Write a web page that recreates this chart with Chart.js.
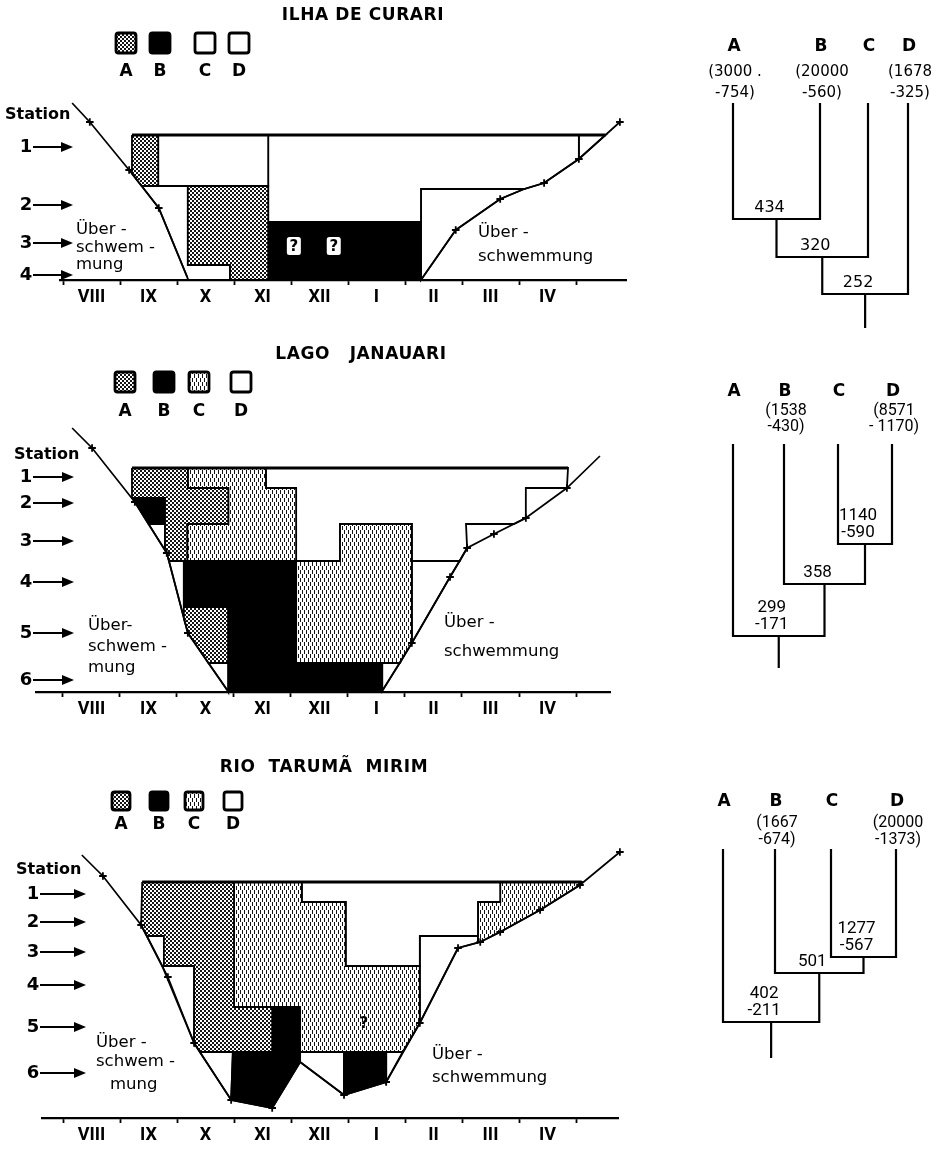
<!DOCTYPE html>
<html>
<head>
<meta charset="utf-8">
<script src="https://cdn.jsdelivr.net/npm/chart.js@4.4.1/dist/chart.umd.min.js"></script>
<style>
  html, body { margin: 0; padding: 0; background: #fff; }
  #page { position: relative; width: 945px; height: 1153px; overflow: hidden; background: #fff; }
  #page canvas { position: absolute; }
</style>
</head>
<body>
<div id="page"></div>
<script>
// ------------------------------------------------------------------
// Time axis: one month between two ticks, tick 0 = start of August
// Level axis: water level above the lowest sampled level
// ------------------------------------------------------------------
const monthLabels = ['VIII', 'IX', 'X', 'XI', 'XII', 'I', 'II', 'III', 'IV'];
const groupLetters = ['A', 'B', 'C', 'D'];

// ---------------- Ilha de Curari ----------------
const curariStations = [6.65, 3.75, 1.85, 0.25];
const curariFloodLeft = [[0.16, 8.85], [0.47, 7.9], [1.16, 5.5], [1.38, 4.7], [1.68, 3.6], [2.18, 0.15]];
const curariFloodLeftMarks = [1, 2, 4];
const curariFloodRight = [[6.28, 0], [6.89, 2.5], [7.67, 4.05], [8.09, 4.55], [8.44, 4.85], [9.05, 6.05], [9.77, 7.9]];
const curariFloodRightMarks = [1, 2, 4, 5, 6];
const curariSurface = [[1.21, 7.25], [9.52, 7.25]];
const curariA1 = [[1.21, 7.25], [1.67, 7.25], [1.67, 4.7], [1.38, 4.7], [1.21, 5.32]];
const curariC1 = [[1.67, 7.25], [3.6, 7.25], [3.6, 4.7], [1.67, 4.7]];
const curariA2 = [[2.19, 4.7], [3.6, 4.7], [3.6, 0], [2.93, 0], [2.93, 0.75], [2.19, 0.75]];
const curariB1 = [[3.6, 2.9], [6.28, 2.9], [6.28, 0], [3.6, 0]];
const curariD1 = [[3.6, 7.25], [9.05, 7.25], [9.05, 6.05], [8.44, 4.85], [8.09, 4.55], [6.28, 4.55], [6.28, 2.9], [3.6, 2.9]];
const curariOpen1 = [[1.38, 4.7], [2.19, 4.7], [2.19, 0.75], [2.93, 0.75], [2.93, 0], [2.2, 0], [1.68, 3.6]];
const curariOpen2 = [[9.05, 7.25], [9.52, 7.25], [9.05, 6.05]];
const curariOpen3 = [[6.28, 4.55], [8.09, 4.55], [7.67, 4.05], [6.89, 2.5], [6.28, 0]];
const curariQuestions = [[4.05, 1.7], [4.75, 1.7]];

// ---------------- Lago Janauari ----------------
const janauariStations = [10.75, 9.45, 7.55, 5.5, 2.95, 0.6];
const janauariFloodLeft = [[0.16, 13.2], [0.51, 12.2], [1.26, 9.5], [1.82, 6.95], [2.19, 2.95], [2.88, 0.1]];
const janauariFloodLeftMarks = [1, 2, 3, 4];
const janauariFloodRight = [[5.6, 0.05], [6.12, 2.45], [6.79, 5.75], [7.09, 7.2], [7.56, 7.9], [8.12, 8.7], [8.84, 10.2], [9.42, 11.8]];
const janauariFloodRightMarks = [1, 2, 3, 4, 5, 6];
const janauariSurface = [[1.21, 11.2], [8.86, 11.2]];
const janauariA1 = [[1.21, 11.2], [2.19, 11.2], [2.19, 10.2], [2.9, 10.2], [2.9, 8.4], [2.18, 8.4], [2.18, 6.55], [1.86, 6.55], [1.82, 6.95], [1.79, 7.09], [1.79, 9.7], [1.21, 9.7]];
const janauariB1 = [[1.21, 9.7], [1.79, 9.7], [1.79, 8.4], [1.5, 8.4], [1.26, 9.5]];
const janauariC1 = [[2.19, 11.2], [3.56, 11.2], [3.56, 10.2], [4.09, 10.2], [4.09, 6.55], [2.18, 6.55], [2.18, 8.4], [2.9, 8.4], [2.9, 10.2], [2.19, 10.2]];
const janauariB2 = [[2.12, 6.55], [4.09, 6.55], [4.09, 1.45], [5.6, 1.45], [5.6, 0], [2.9, 0], [2.9, 4.25], [2.12, 4.25]];
const janauariA2 = [[2.12, 4.25], [2.9, 4.25], [2.9, 1.45], [2.55, 1.45], [2.19, 2.95], [2.12, 3.7]];
const janauariC2 = [[4.09, 6.55], [4.86, 6.55], [4.86, 8.4], [6.12, 8.4], [6.12, 2.45], [5.91, 1.45], [4.09, 1.45]];
const janauariD1 = [[3.56, 11.2], [8.86, 11.2], [8.84, 10.2], [8.12, 10.2], [8.12, 8.7], [7.91, 8.4], [7.07, 8.4], [7.09, 7.2], [6.96, 6.55], [6.12, 6.55], [6.12, 8.4], [4.86, 8.4], [4.86, 6.55], [4.09, 6.55], [4.09, 10.2], [3.56, 10.2]];
const janauariOpen1 = [[1.5, 8.4], [1.79, 8.4], [1.79, 7.09]];
const janauariOpen2 = [[1.86, 6.55], [2.12, 6.55], [2.12, 3.7]];
const janauariOpen3 = [[2.55, 1.45], [2.9, 1.45], [2.9, 0], [2.88, 0.1]];
const janauariOpen4 = [[5.6, 1.45], [5.91, 1.45], [5.6, 0.05]];
const janauariOpen5 = [[6.12, 6.55], [6.96, 6.55], [6.79, 5.75], [6.12, 2.45]];

// ---------------- Rio Tarumã Mirim ----------------
const tarumaStations = [11.2, 9.8, 8.3, 6.65, 4.55, 2.25];
const tarumaFlood = [[0.33, 13.15], [0.7, 12.1], [1.37, 9.65], [1.84, 7.05], [2.3, 3.75], [2.95, 0.9], [3.67, 0.5], [4.16, 2.8], [4.93, 1.15], [5.67, 1.8], [6.26, 4.75], [6.93, 8.5], [7.32, 8.8], [7.67, 9.3], [8.37, 10.4], [9.07, 11.65], [9.77, 13.3]];
const tarumaFloodMarks = [1, 2, 3, 4, 5, 6, 8, 9, 10, 11, 12, 13, 14, 15, 16];
const tarumaSurface = [[1.39, 11.8], [9.1, 11.8]];
const tarumaA1 = [[1.39, 11.8], [3.0, 11.8], [3.0, 5.55], [3.67, 5.55], [3.67, 3.3], [2.4, 3.3], [2.3, 3.75], [2.3, 7.6], [1.77, 7.6], [1.77, 9.1], [1.47, 9.1], [1.37, 9.65]];
const tarumaB1 = [[2.98, 3.3], [3.67, 3.3], [3.67, 5.55], [4.16, 5.55], [4.16, 2.8], [3.67, 0.5], [2.95, 0.9]];
const tarumaC1 = [[3.0, 11.8], [4.19, 11.8], [4.19, 10.8], [4.96, 10.8], [4.96, 7.6], [6.26, 7.6], [6.26, 4.75], [5.96, 3.3], [4.16, 3.3], [4.16, 5.55], [3.0, 5.55]];
const tarumaD1 = [[4.19, 11.8], [7.67, 11.8], [7.67, 10.8], [7.28, 10.8], [7.28, 9.1], [6.26, 9.1], [6.26, 7.6], [4.96, 7.6], [4.96, 10.8], [4.19, 10.8]];
const tarumaC2 = [[7.67, 11.8], [9.1, 11.8], [9.07, 11.65], [8.37, 10.4], [7.67, 9.3], [7.32, 8.8], [7.28, 8.77], [7.28, 10.8], [7.67, 10.8]];
const tarumaB2 = [[4.93, 3.3], [5.67, 3.3], [5.67, 1.8], [4.93, 1.15]];
const tarumaOpen1 = [[1.47, 9.1], [1.77, 9.1], [1.77, 7.6], [1.74, 7.6]];
const tarumaOpen2 = [[1.74, 7.6], [2.3, 7.6], [2.3, 3.75]];
const tarumaOpen3 = [[2.4, 3.3], [2.98, 3.3], [2.95, 0.9]];
const tarumaOpen4 = [[6.26, 9.1], [7.28, 9.1], [7.28, 8.77], [6.93, 8.5], [6.26, 4.75]];
const tarumaOpen5 = [[4.16, 3.3], [4.93, 3.3], [4.93, 1.15], [4.16, 2.8]];
const tarumaOpen6 = [[5.67, 3.3], [5.96, 3.3], [5.67, 1.8]];
const tarumaQuestions = [[5.28, 4.75]];

// ---------------- Dendrograms ----------------
const curariLeafPos = [0, 1.74, 2.7, 3.5];
const curariLeafRange = [['(3000 .', '-754)'], ['(20000', '-560)'], null, ['(1678', '-325)']];
const curariMergePairs = [[0, 1], [4, 2], [5, 3]];
const curariMergeLevels = [2.32, 3.08, 3.82];
const curariMergeLabels = [['434'], ['320'], ['252']];
const curariRootEnd = 4.5;

const janauariLeafPos = [0, 1.02, 2.1, 3.18];
const janauariLeafRange = [null, ['(1538', '-430)'], null, ['(8571', '- 1170)']];
const janauariMergePairs = [[2, 3], [1, 4], [0, 5]];
const janauariMergeLevels = [2.0, 2.8, 3.84];
const janauariMergeLabels = [['1140', '-590'], ['358'], ['299', '-171']];
const janauariRootEnd = 4.48;

const tarumaLeafPos = [-0.2, 0.84, 1.96, 3.26];
const tarumaLeafRange = [null, ['(1667', '-674)'], null, ['(20000', '-1373)']];
const tarumaMergePairs = [[2, 3], [1, 4], [0, 5]];
const tarumaMergeLevels = [2.16, 2.48, 3.46];
const tarumaMergeLabels = [['1277', '-567'], ['501'], ['402', '-211']];
const tarumaRootEnd = 4.18;

// ------------------------------------------------------------------
const page = document.getElementById('page');
const FONT = '"DejaVu Sans", "Liberation Sans", sans-serif';
const NARROW = 'Roboto, "DejaVu Sans", sans-serif';
const PX_PER_MONTH = 57, MONTH0 = 63, PX_PER_LEVEL = 20;

Chart.defaults.font.family = FONT;
Chart.defaults.color = '#000';
Chart.defaults.animation = false;
Chart.defaults.responsive = false;
Chart.defaults.devicePixelRatio = 1;
Chart.defaults.events = [];
Chart.defaults.plugins.legend.display = false;
Chart.defaults.plugins.tooltip.enabled = false;

// fill textures
const tile = document.createElement('canvas');
function makePattern(kind) {
  const c = document.createElement('canvas');
  const g = c.getContext('2d');
  if (kind === 'stipple') {
    c.width = 4; c.height = 4;
    g.fillStyle = '#fff'; g.fillRect(0, 0, 4, 4);
    g.fillStyle = '#151515';
    g.fillRect(0, 0, 2, 2); g.fillRect(2, 2, 2, 2);
    g.fillRect(1, 1, 1, 1); g.fillRect(3, 3, 1, 1);
  } else {
    c.width = 4; c.height = 8;
    g.fillStyle = '#fff'; g.fillRect(0, 0, 4, 8);
    g.fillStyle = '#151515';
    g.fillRect(0, 0, 1, 4); g.fillRect(2, 4, 1, 4);
  }
  return tile.getContext('2d').createPattern(c, 'repeat');
}
const FILLS = { stipple: makePattern('stipple'), dash: makePattern('dash'), black: '#000', white: '#fff' };

// fill each closed outline through the points the library has placed
const polygonFill = {
  id: 'polygonFill',
  beforeDatasetDraw(chart, args) {
    const ds = chart.data.datasets[args.index];
    if (!ds.polyFill) return;
    const pts = args.meta.data;
    const ctx = chart.ctx;
    ctx.save();
    ctx.beginPath();
    pts.forEach((p, i) => (i ? ctx.lineTo(p.x, p.y) : ctx.moveTo(p.x, p.y)));
    ctx.closePath();
    ctx.fillStyle = ds.polyFill;
    ctx.fill();
    ctx.restore();
  }
};

function ring(pts) { return pts.concat([pts[0]]).map(([x, y]) => ({ x, y })); }
function pts(list) { return list.map(([x, y]) => ({ x, y })); }

function arrow(ctx, x0, x1, y) {
  ctx.save();
  ctx.strokeStyle = '#000'; ctx.fillStyle = '#000'; ctx.lineWidth = 2.2;
  ctx.beginPath(); ctx.moveTo(x0, y); ctx.lineTo(x1 - 6, y); ctx.stroke();
  ctx.beginPath(); ctx.moveTo(x1, y); ctx.lineTo(x1 - 12, y - 5); ctx.lineTo(x1 - 12, y + 5); ctx.closePath(); ctx.fill();
  ctx.restore();
}

function roundBox(ctx, x, y, w, h, r) {
  ctx.beginPath();
  ctx.moveTo(x + r, y); ctx.lineTo(x + w - r, y); ctx.quadraticCurveTo(x + w, y, x + w, y + r);
  ctx.lineTo(x + w, y + h - r); ctx.quadraticCurveTo(x + w, y + h, x + w - r, y + h);
  ctx.lineTo(x + r, y + h); ctx.quadraticCurveTo(x, y + h, x, y + h - r);
  ctx.lineTo(x, y + r); ctx.quadraticCurveTo(x, y, x + r, y);
  ctx.closePath();
}

function buildPanel(cfg) {
  const canvas = document.createElement('canvas');
  canvas.width = 640; canvas.height = cfg.height;
  canvas.style.left = '0px'; canvas.style.top = cfg.top + 'px';
  page.appendChild(canvas);

  const datasets = [];
  cfg.regions.forEach(([kind, poly]) => {
    datasets.push({
      data: ring(poly), polyFill: FILLS[cfg.fills[kind]],
      borderColor: '#000', borderWidth: 1.8, pointRadius: 0, fill: false, tension: 0, order: 3, clip: false
    });
  });
  datasets.push({
    data: pts(cfg.surface), borderColor: '#000', borderWidth: 2.8, pointRadius: 0, fill: false, order: 1, clip: false
  });
  cfg.floods.forEach(([line, marks]) => {
    datasets.push({
      data: pts(line), borderColor: '#000', borderWidth: 1.7, fill: false, tension: 0, order: 0, clip: false,
      pointStyle: 'cross', pointRadius: line.map((_, i) => (marks.includes(i) ? 3.8 : 0)),
      pointBorderColor: '#000', pointBorderWidth: 1.8
    });
  });

  const ticks = [];
  for (let i = 0; i <= 9; i++) ticks.push(i);
  for (let i = 0; i < monthLabels.length; i++) ticks.push(i + 0.5);
  ticks.sort((a, b) => a - b);

  const annotate = {
    id: 'annotate',
    afterDraw(chart) {
      const ctx = chart.ctx;
      const ys = chart.scales.y, xs = chart.scales.x;
      ctx.save();
      ctx.fillStyle = '#000'; ctx.strokeStyle = '#000';
      ctx.textBaseline = 'middle';
      // title
      ctx.font = 'bold 17px ' + FONT;
      ctx.textAlign = 'center';
      ctx.letterSpacing = '0.6px';
      ctx.fillText(cfg.title.text, cfg.title.x, cfg.title.y);
      ctx.letterSpacing = '0px';
      // legend
      const L = cfg.legend;
      L.xs.forEach((x, i) => {
        roundBox(ctx, x, L.y, L.size, L.size, 2.5);
        ctx.fillStyle = FILLS[cfg.fills[groupLetters[i]]];
        ctx.fill();
        ctx.lineWidth = 2.8; ctx.strokeStyle = '#000';
        ctx.stroke();
        ctx.fillStyle = '#000';
        ctx.font = 'bold 17px ' + FONT;
        ctx.fillText(groupLetters[i], x + L.size / 2, L.letterY);
      });
      // station axis
      ctx.textAlign = 'left';
      ctx.font = '600 16px ' + FONT;
      ctx.fillText('Station', cfg.station.x, cfg.station.y);
      ctx.font = 'bold 18px ' + FONT;
      ctx.textAlign = 'center';
      cfg.stations.forEach((lvl, i) => {
        const y = ys.getPixelForValue(lvl);
        ctx.fillText(String(i + 1), cfg.station.numX, y);
        arrow(ctx, cfg.station.arrow[0], cfg.station.arrow[1], y);
      });
      // flood labels
      ctx.textAlign = 'left';
      ctx.font = '16.5px ' + FONT;
      cfg.flood.forEach(t => t.lines.forEach((s, i) => ctx.fillText(s, t.xs ? t.xs[i] : t.x, t.ys[i])));
      // uncertain samples
      (cfg.questions || []).forEach(([qx, qy]) => {
        const px = xs.getPixelForValue(qx), py = ys.getPixelForValue(qy);
        if (cfg.questionBox) {
          ctx.fillStyle = '#fff';
          roundBox(ctx, px - 7, py - 9, 14, 18, 2.5);
          ctx.fill();
        }
        ctx.fillStyle = '#000';
        ctx.font = 'bold 15px ' + FONT;
        ctx.textAlign = 'center';
        ctx.fillText('?', px, py + 1);
      });
      ctx.restore();
    }
  };

  return new Chart(canvas, {
    type: 'line',
    data: { datasets },
    options: {
      layout: {
        padding: {
          left: MONTH0 + PX_PER_MONTH * cfg.xMin,
          right: 640 - (MONTH0 + PX_PER_MONTH * cfg.xMax),
          top: cfg.baseline - PX_PER_LEVEL * cfg.yMax,
          bottom: 0
        }
      },
      scales: {
        x: {
          type: 'linear', min: cfg.xMin, max: cfg.xMax,
          afterBuildTicks: s => { s.ticks = ticks.map(v => ({ value: v })); },
          afterFit: s => { s.height = cfg.height - cfg.baseline; },
          border: { display: true, color: '#000', width: 2.2 },
          grid: {
            display: true, drawOnChartArea: false, drawTicks: true, tickLength: 5, tickWidth: 1.8,
            tickColor: c => (c.tick && Number.isInteger(c.tick.value) ? '#000' : 'rgba(0,0,0,0)')
          },
          ticks: {
            autoSkip: false, maxRotation: 0, minRotation: 0, padding: 2, color: '#000',
            font: { family: NARROW, size: 18, weight: 'bold' },
            callback: v => (Number.isInteger(v) ? '' : monthLabels[Math.floor(v)])
          }
        },
        y: { type: 'linear', min: 0, max: cfg.yMax, display: false }
      }
    },
    plugins: [polygonFill, annotate]
  });
}

function buildTree(cfg) {
  const canvas = document.createElement('canvas');
  canvas.width = 305; canvas.height = cfg.height;
  canvas.style.left = '640px'; canvas.style.top = cfg.top + 'px';
  page.appendChild(canvas);

  const X_MIN = -1.06, X_MAX = 4.14, LVL_MAX = 4.6, UNIT = 50;
  const pos = cfg.leafPos.slice();
  const lvl = cfg.leafPos.map(() => 0);
  const datasets = [];
  cfg.pairs.forEach(([a, b], k) => {
    const L = cfg.levels[k];
    datasets.push({ data: [{ x: pos[a], y: lvl[a] }, { x: pos[a], y: L }, { x: pos[b], y: L }, { x: pos[b], y: lvl[b] }] });
    pos.push((pos[a] + pos[b]) / 2);
    lvl.push(L);
  });
  const r = pos.length - 1;
  datasets.push({ data: [{ x: pos[r], y: lvl[r] }, { x: pos[r], y: cfg.rootEnd }] });
  datasets.forEach(d => Object.assign(d, { borderColor: '#000', borderWidth: 2.2, pointRadius: 0, fill: false, tension: 0, clip: false }));

  const labels = {
    id: 'treeLabels',
    afterDraw(chart) {
      const ctx = chart.ctx, xs = chart.scales.x, ys = chart.scales.y;
      const top = ys.getPixelForValue(0);
      ctx.save();
      ctx.fillStyle = '#000';
      ctx.textAlign = 'center'; ctx.textBaseline = 'middle';
      cfg.leafPos.forEach((p, i) => {
        const x = xs.getPixelForValue(p);
        ctx.font = 'bold 17px ' + FONT;
        ctx.fillText(groupLetters[i], x + 1, top - cfg.letterGap);
        const rg = cfg.ranges[i];
        if (rg) {
          ctx.font = cfg.rangeFont;
          ctx.fillText(rg[0], x + 2, top - cfg.rangeGaps[0]);
          ctx.fillText(rg[1], x + 2, top - cfg.rangeGaps[1]);
        }
      });
      ctx.font = cfg.mergeFont;
      cfg.pairs.forEach((_, k) => {
        const node = pos[cfg.leafPos.length + k];
        const x = xs.getPixelForValue(node) - 7;
        const y = ys.getPixelForValue(cfg.levels[k]);
        const lines = cfg.labels[k];
        lines.forEach((s, j) => ctx.fillText(s, x, y - 11 - (lines.length - 1 - j) * 17));
      });
      ctx.restore();
    }
  };

  return new Chart(canvas, {
    type: 'line',
    data: { datasets },
    options: {
      layout: {
        padding: {
          left: 93 + UNIT * X_MIN, right: 305 - (93 + UNIT * X_MAX),
          top: cfg.leafTop, bottom: cfg.height - (cfg.leafTop + UNIT * LVL_MAX)
        }
      },
      scales: {
        x: { type: 'linear', min: X_MIN, max: X_MAX, display: false },
        y: { type: 'linear', min: 0, max: LVL_MAX, reverse: true, display: false }
      }
    },
    plugins: [labels]
  });
}

// ---------------- the three water bodies ----------------
buildPanel({
  top: 0, height: 325, baseline: 280, xMin: -0.05, xMax: 9.88, yMax: 9.2,
  fills: { A: 'stipple', B: 'black', C: 'white', D: 'white', W: 'white' },
  regions: [['A', curariA1], ['C', curariC1], ['A', curariA2], ['B', curariB1], ['D', curariD1],
            ['W', curariOpen1], ['W', curariOpen2], ['W', curariOpen3]],
  surface: curariSurface,
  floods: [[curariFloodLeft, curariFloodLeftMarks], [curariFloodRight, curariFloodRightMarks]],
  stations: curariStations,
  questions: curariQuestions, questionBox: true,
  title: { text: 'ILHA DE CURARI', x: 363, y: 16 },
  legend: { xs: [116, 150, 195, 229], y: 33, size: 20, letterY: 72 },
  station: { x: 5, y: 115, numX: 26, arrow: [33, 73] },
  flood: [
    { x: 76, lines: ['Über -', 'schwem -', 'mung'], ys: [230, 248, 265] },
    { x: 478, lines: ['Über -', 'schwemmung'], ys: [233, 257] }
  ]
});

buildPanel({
  top: 330, height: 400, baseline: 362, xMin: -0.47, xMax: 9.6, yMax: 13.6,
  fills: { A: 'stipple', B: 'black', C: 'dash', D: 'white', W: 'white' },
  regions: [['A', janauariA1], ['B', janauariB1], ['C', janauariC1], ['B', janauariB2], ['A', janauariA2],
            ['C', janauariC2], ['D', janauariD1], ['W', janauariOpen1], ['W', janauariOpen2],
            ['W', janauariOpen3], ['W', janauariOpen4], ['W', janauariOpen5]],
  surface: janauariSurface,
  floods: [[janauariFloodLeft, janauariFloodLeftMarks], [janauariFloodRight, janauariFloodRightMarks]],
  stations: janauariStations,
  title: { text: 'LAGO   JANAUARI', x: 361, y: 25 },
  legend: { xs: [115, 154, 189, 231], y: 42, size: 20, letterY: 82 },
  station: { x: 14, y: 125, numX: 26, arrow: [33, 74] },
  flood: [
    { x: 88, lines: ['Über-', 'schwem -', 'mung'], ys: [296, 317, 338] },
    { x: 444, lines: ['Über -', 'schwemmung'], ys: [293, 322] }
  ]
});

buildPanel({
  top: 750, height: 403, baseline: 368, xMin: -0.37, xMax: 9.74, yMax: 13.6,
  fills: { A: 'stipple', B: 'black', C: 'dash', D: 'white', W: 'white' },
  regions: [['A', tarumaA1], ['B', tarumaB1], ['C', tarumaC1], ['D', tarumaD1], ['C', tarumaC2],
            ['B', tarumaB2], ['W', tarumaOpen1], ['W', tarumaOpen2], ['W', tarumaOpen3],
            ['W', tarumaOpen4], ['W', tarumaOpen5], ['W', tarumaOpen6]],
  surface: tarumaSurface,
  floods: [[tarumaFlood, tarumaFloodMarks]],
  stations: tarumaStations,
  questions: tarumaQuestions, questionBox: false,
  title: { text: 'RIO  TARUMÃ  MIRIM', x: 324, y: 18 },
  legend: { xs: [112, 150, 185, 224], y: 42, size: 18, letterY: 75 },
  station: { x: 16, y: 120, numX: 33, arrow: [40, 86] },
  flood: [
    { xs: [96, 96, 110], lines: ['Über -', 'schwem -', 'mung'], ys: [293, 312, 335] },
    { x: 432, lines: ['Über -', 'schwemmung'], ys: [305, 328] }
  ]
});

// ---------------- the three dendrograms ----------------
buildTree({
  top: 0, height: 335, leafTop: 103,
  leafPos: curariLeafPos, ranges: curariLeafRange, pairs: curariMergePairs,
  levels: curariMergeLevels, labels: curariMergeLabels, rootEnd: curariRootEnd,
  letterGap: 56, rangeGaps: [31, 10], rangeFont: '15px ' + FONT, mergeFont: '16px ' + FONT
});
buildTree({
  top: 330, height: 370, leafTop: 114,
  leafPos: janauariLeafPos, ranges: janauariLeafRange, pairs: janauariMergePairs,
  levels: janauariMergeLevels, labels: janauariMergeLabels, rootEnd: janauariRootEnd,
  letterGap: 52, rangeGaps: [33, 17], rangeFont: '16px ' + NARROW, mergeFont: '17px ' + NARROW
});
buildTree({
  top: 750, height: 403, leafTop: 99,
  leafPos: tarumaLeafPos, ranges: tarumaLeafRange, pairs: tarumaMergePairs,
  levels: tarumaMergeLevels, labels: tarumaMergeLabels, rootEnd: tarumaRootEnd,
  letterGap: 47, rangeGaps: [26, 9], rangeFont: '16px ' + NARROW, mergeFont: '17px ' + NARROW
});
</script>
</body>
</html>
